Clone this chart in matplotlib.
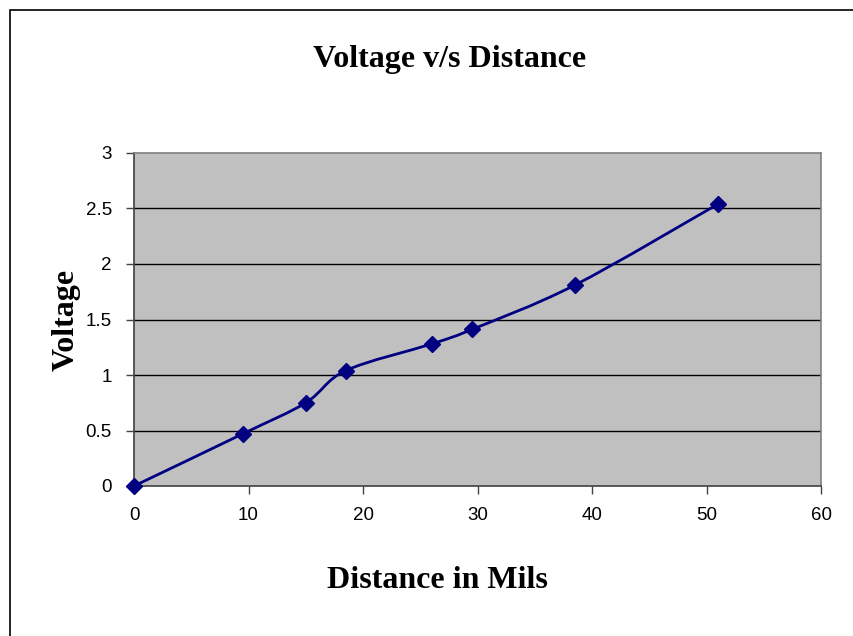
import numpy as np
import matplotlib.pyplot as plt
from matplotlib.path import Path
from matplotlib.patches import PathPatch, Rectangle

# Readings taken off the reference chart
distance = [0, 9.5, 15, 18.5, 26, 29.5, 38.5, 51]
voltage = [0, 0.47, 0.75, 1.04, 1.28, 1.41, 1.81, 2.54]

x_ticks = [0, 10, 20, 30, 40, 50, 60]
y_ticks = [0, 0.5, 1, 1.5, 2, 2.5, 3]
y_ticklabels = ["0", "0.5", "1", "1.5", "2", "2.5", "3"]

navy = "#000080"

fig = plt.figure(figsize=(8.54, 6.36), dpi=100)
fig.patch.set_facecolor("white")

# outer chart frame (runs off the right/bottom of the image in the reference)
fig.patches.append(Rectangle((10 / 854, -0.05), 1.0, (636 - 10) / 636 + 0.05,
                             transform=fig.transFigure, fill=False,
                             edgecolor="black", linewidth=1.2))

ax = fig.add_axes([134 / 854, (636 - 486) / 636, 687 / 854, 333 / 636])
ax.set_facecolor("#C0C0C0")
ax.set_xlim(0, 60)
ax.set_ylim(0, 3)

for y in y_ticks[1:-1]:
    ax.axhline(y, color="black", linewidth=1.0, zorder=1)

# Excel-style smoothed line: cubic Bezier through the points
pts = np.column_stack([distance, voltage]).astype(float)
verts = [pts[0]]
codes = [Path.MOVETO]
n = len(pts)
for i in range(n - 1):
    p0 = pts[i - 1] if i > 0 else pts[i]
    p1 = pts[i]
    p2 = pts[i + 1]
    p3 = pts[i + 2] if i + 2 < n else pts[i + 1]
    c1 = p1 + (p2 - p0) / 6.0
    c2 = p2 - (p3 - p1) / 6.0
    verts += [c1, c2, p2]
    codes += [Path.CURVE4] * 3
ax.add_patch(PathPatch(Path(verts, codes), fill=False, edgecolor=navy,
                       linewidth=2.0, zorder=3, clip_on=False))
ax.plot(distance, voltage, linestyle="none", marker="D", markersize=8,
        color=navy, zorder=4, clip_on=False)

for side in ["top", "right"]:
    ax.spines[side].set_color("#808080")
    ax.spines[side].set_linewidth(1.2)
for side in ["left", "bottom"]:
    ax.spines[side].set_color("#404040")
    ax.spines[side].set_linewidth(1.2)

ax.set_xticks(x_ticks)
ax.set_yticks(y_ticks)
ax.set_yticklabels(y_ticklabels)
ax.tick_params(direction="out", length=6, width=1, color="#404040",
               labelsize=13.5)
ax.tick_params(axis="x", pad=9)
ax.tick_params(axis="y", pad=10)
for lab in ax.get_xticklabels() + ax.get_yticklabels():
    lab.set_family("Liberation Sans")

label_font = dict(fontfamily="Liberation Serif", fontweight="bold",
                  fontsize=23, ha="center", va="center")
fig.text(450 / 854, 1 - 60 / 636, "Voltage v/s Distance", **label_font)
fig.text(437 / 854, 1 - 580 / 636, "Distance in Mils", **label_font)
fig.text(66 / 854, 1 - 320 / 636, "Voltage", rotation=90, **label_font)

plt.savefig("out.png", dpi=100)
